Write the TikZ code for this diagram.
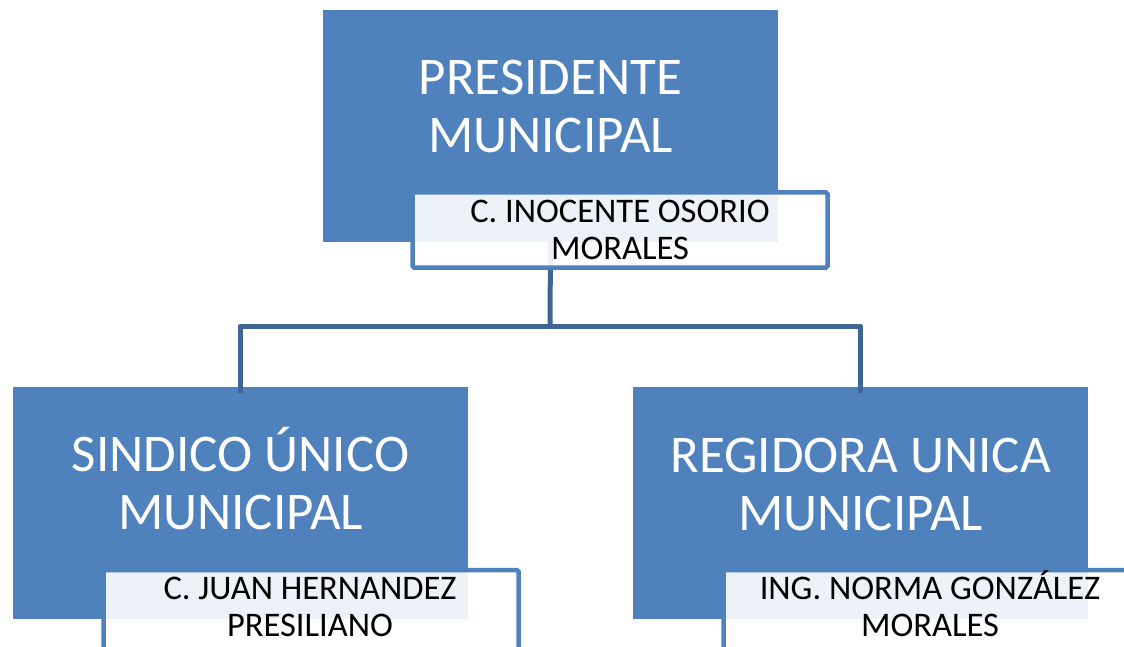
\documentclass[tikz,border=0pt]{standalone}
\usepackage{fontspec}
\setmainfont{Carlito}
\definecolor{boxblue}{RGB}{79,129,189}
\definecolor{linkblue}{RGB}{62,101,150}
\begin{document}
\begin{tikzpicture}[x=1pt,y=-1pt,
  titlebox/.style={rectangle,fill=boxblue,draw=none,minimum width=455pt,minimum height=232pt,inner sep=0pt},
  namebox/.style={rectangle,draw=boxblue,line width=4.5pt,rounded corners=1.5pt,fill=white,fill opacity=0.9,draw opacity=1,minimum width=415pt,inner sep=0pt},
  titletext/.style={text=white,align=center,inner sep=0pt,anchor=south,font=\fontsize{53}{58}\selectfont},
  nametext/.style={text=black,align=center,inner sep=0pt,anchor=south,font=\fontsize{34.5}{37}\selectfont},
  link/.style={draw=linkblue,line width=5pt}]
\useasboundingbox (0,0) rectangle (1124,647);
\clip (0,0) rectangle (1124,647);
% title boxes
\node[titlebox] (pres) at (550.5,126) {};
\node[titlebox] (sind) at (240,503) {};
\node[titlebox] (reg) at (860.5,503) {};
% connectors
\coordinate (hub) at (550,326);
\draw[link] (pres.south) -- (hub);
\draw[link,line join=round] (hub) -| ([yshift=-6pt]sind.north);
\draw[link,line join=round] (hub) -| ([yshift=-6pt]reg.north);
% titles
\node[titletext] (presT) at (550.5,153.5) {PRESIDENTE\\MUNICIPAL};
\node[titletext] (sindT) at (240.5,530.5) {SINDICO ÚNICO\\MUNICIPAL};
\node[titletext] (regT) at (860.5,531) {REGIDORA UNICA\\MUNICIPAL};
% name boxes
\node[namebox,minimum height=75pt] (presname) at (620,230) {};
\node[namebox,minimum height=110pt] (sindname) at (311,625) {};
\node[namebox,minimum height=110pt] (regname) at (931,625) {};
\node[nametext] (presN) at (620,260) {C. INOCENTE OSORIO\\MORALES};
\node[nametext] (sindN) at (310,637) {C. JUAN HERNANDEZ\\PRESILIANO};
\node[nametext] (regN) at (930,637) {ING. NORMA GONZÁLEZ\\MORALES};
\end{tikzpicture}
\end{document}
